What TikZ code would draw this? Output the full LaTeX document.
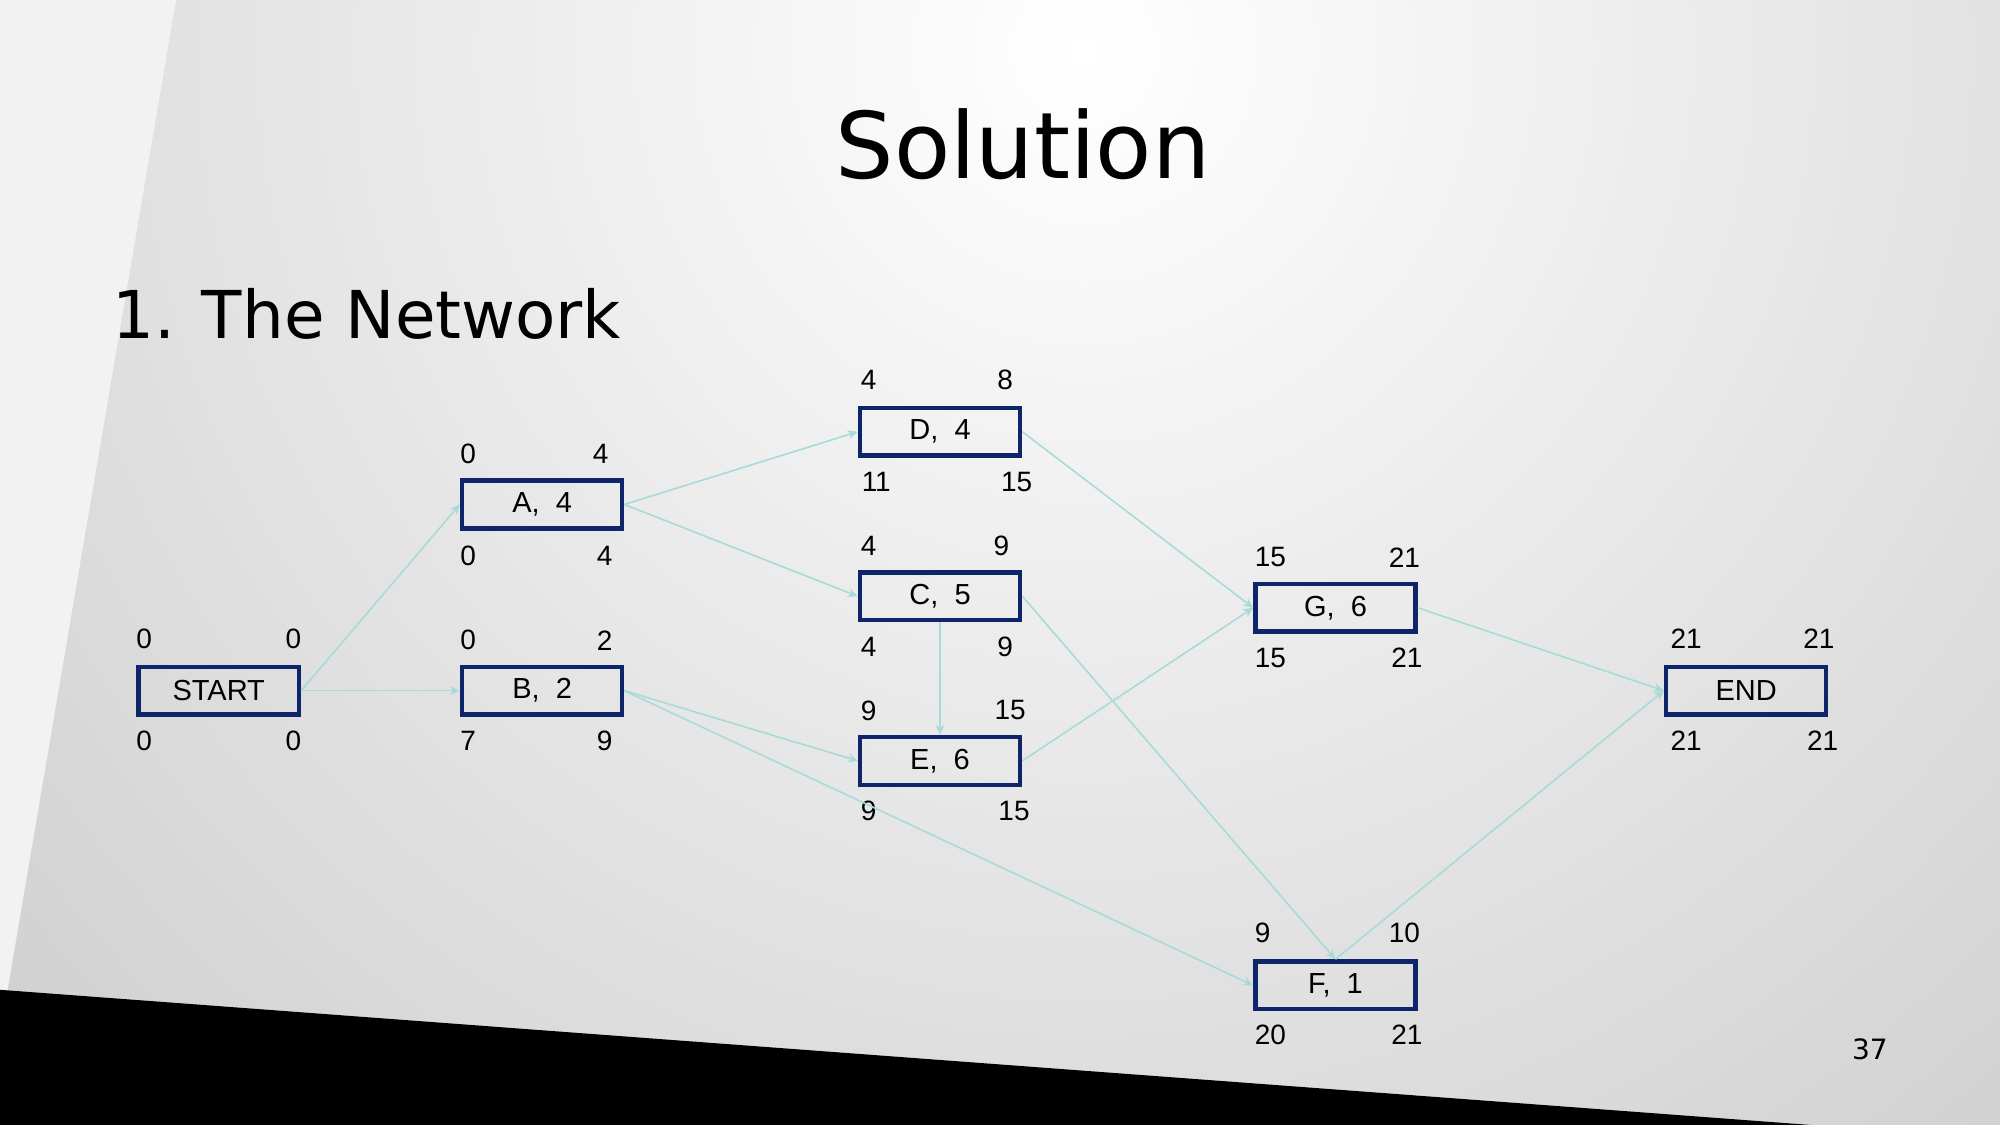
\documentclass[tikz,border=0pt]{standalone}
\usepackage{fontspec}
\setmainfont{Liberation Sans}
\newfontfamily\djv{DejaVu Sans}
\usetikzlibrary{arrows.meta}
\definecolor{navy}{RGB}{14,38,105}
\definecolor{arrowc}{RGB}{168,218,218}
\definecolor{bgout}{RGB}{208,208,208}
\definecolor{strip}{RGB}{242,242,242}
\begin{document}
\begin{tikzpicture}[x=0.6378pt,y=-0.6378pt,
  box/.style={draw=navy,line width=2.2pt,minimum width=80.1pt,minimum height=23.9pt,inner sep=0pt,font=\fontsize{14.5}{16}\selectfont},
  num/.style={inner sep=0pt,font=\fontsize{14}{16}\selectfont},
  conn/.style={draw=arrowc,line width=0.8pt,-{Stealth[length=5pt,width=4.5pt]}}]
\useasboundingbox (0,0) rectangle (1568,882);
\begin{scope}
  \clip (0,0) rectangle (1568,882);
  \fill[bgout] (0,0) rectangle (1568,882);
  \shade[inner color=white, outer color=bgout] (850,40) circle (1150);
  \fill[strip] (0,0) -- (138,0) -- (0,811) -- cycle;
  \fill[black] (0,776) -- (1420,882) -- (0,882) -- cycle;
\end{scope}
% titles
\node[inner sep=0pt,anchor=base,font=\djv\fontsize{46}{50}\selectfont] (title) at (802,140) {Solution};
\node[inner sep=0pt,anchor=base west,font=\djv\fontsize{33}{38}\selectfont] (sub) at (88,265) {1.\hspace{0.4em}The Network};
\node[inner sep=0pt,font=\djv\fontsize{14}{16}\selectfont] (page) at (1466,823) {37};
% boxes
\node[box] (START) at (171.5,541.5) {START};
\node[box] (A) at (425,395.5) {A,\ \ 4};
\node[box] (B) at (425,541.5) {B,\ \ 2};
\node[box] (D) at (737,338.5) {D,\ \ 4};
\node[box] (C) at (737,467.5) {C,\ \ 5};
\node[box] (E) at (737,596.5) {E,\ \ 6};
\node[box] (G) at (1047,476.5) {G,\ \ 6};
\node[box] (END) at (1369,541.5) {END};
\node[box] (F) at (1047,772.5) {F,\ \ 1};
% numbers
\node[num] (s1) at (113,501) {0};  \node[num] (s2) at (230,501) {0};
\node[num] (s3) at (113,581) {0};  \node[num] (s4) at (230,581) {0};
\node[num] (a1) at (367,356) {0};  \node[num] (a2) at (471,356) {4};
\node[num] (a3) at (367,436) {0};  \node[num] (a4) at (474,436) {4};
\node[num] (b1) at (367,502) {0};  \node[num] (b2) at (474,502) {2};
\node[num] (b3) at (367,581) {7};  \node[num] (b4) at (474,581) {9};
\node[num] (d1) at (681,298) {4};  \node[num] (d2) at (788,298) {8};
\node[num] (d3) at (687,378) {11}; \node[num] (d4) at (797,378) {15};
\node[num] (c1) at (681,428) {4};  \node[num] (c2) at (785,428) {9};
\node[num] (c3) at (681,507) {4};  \node[num] (c4) at (788,507) {9};
\node[num] (e1) at (681,557) {9};  \node[num] (e2) at (792,557) {15};
\node[num] (e3) at (681,636) {9};  \node[num] (e4) at (795,636) {15};
\node[num] (g1) at (996,437) {15}; \node[num] (g2) at (1101,437) {21};
\node[num] (g3) at (996,516) {15}; \node[num] (g4) at (1103,516) {21};
\node[num] (n1) at (1322,501) {21}; \node[num] (n2) at (1426,501) {21};
\node[num] (n3) at (1322,581) {21}; \node[num] (n4) at (1429,581) {21};
\node[num] (f1) at (990,731) {9};  \node[num] (f2) at (1101,731) {10};
\node[num] (f3) at (996,811) {20}; \node[num] (f4) at (1103,811) {21};
% connectors
\draw[conn] (START.east) -- (A.west);
\draw[conn] (START.east) -- (B.west);
\draw[conn] (A.east) -- (D.west);
\draw[conn] (A.east) -- (C.west);
\draw[conn] (B.east) -- (E.west);
\draw[conn] (B.east) -- (F.west);
\draw[conn] (D.east) -- (G.west);
\draw[conn] (C.south) -- (E.north);
\draw[conn] (C.east) -- (F.north);
\draw[conn] (E.east) -- (G.west);
\draw[conn] (G.east) -- (END.west);
\draw[conn] (F.north) -- (END.west);
\end{tikzpicture}
\end{document}
